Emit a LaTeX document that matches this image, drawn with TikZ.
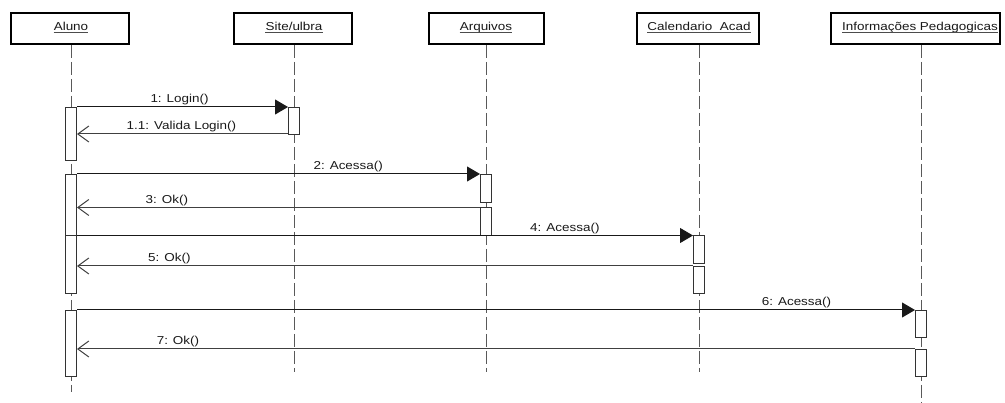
\documentclass[tikz,border=0pt]{standalone}
\usepackage{fontspec}
\newfontfamily\umlfont[FakeStretch=1.17]{Liberation Sans}
\usetikzlibrary{arrows.meta,calc}
\begin{document}
\begin{tikzpicture}[x=1pt,y=-1pt,
  umltext/.style={font=\umlfont\fontsize{11.5}{13}\selectfont, text=black!90, inner sep=0pt},
  hdr/.style={draw=black, line width=2pt, fill=white, inner sep=0pt, minimum height=31pt},
  hdrtext/.style={umltext, anchor=base},
  uline/.style={draw=black!70, line width=0.9pt},
  life/.style={draw=black!65, line width=1pt, dash pattern=on 13pt off 4pt},
  act/.style={draw=black!80, line width=1pt, fill=white, minimum width=11pt, inner sep=0pt, anchor=north},
  call/.style={draw=black!90, line width=1pt, -{Triangle[length=13pt,width=15pt]}},
  ret/.style={draw=black!75, line width=1pt, -{Straight Barb[length=11pt,width=16pt]}},
  msg/.style={umltext, anchor=base, yshift=4pt}
]
\useasboundingbox (0,0) rectangle (1005,403);

% object headers
\node[hdr, minimum width=118pt] (hAluno) at (70,28.5) {};
\node[hdr, minimum width=118pt] (hSite)  at (293,28.5) {};
\node[hdr, minimum width=115pt] (hArq)   at (486.5,28.5) {};
\node[hdr, minimum width=122pt] (hCal)   at (698,28.5) {};
\node[hdr, minimum width=169pt] (hInfo)  at (915.5,28.5) {};

\node[hdrtext] (tAluno) at (71,31)  {Aluno};
\node[hdrtext] (tSite)  at (294,31) {Site/ulbra};
\node[hdrtext] (tArq)   at (486,31) {Arquivos};
\node[hdrtext] (tCal)   at (699,31) {Calendario\ \ Acad};
\node[hdrtext] (tInfo)  at (920,31) {Informações Pedagogicas};

\foreach \t in {tAluno,tSite,tArq,tCal,tInfo}
  \draw[uline] ([yshift=-1.6pt]\t.base west) -- ([yshift=-1.6pt]\t.base east);

% lifelines
\draw[life] (hAluno.south -| tAluno) -- ++(0,347);
\draw[life] (hSite.south -| tSite) -- ++(0,327);
\draw[life] (hArq.south -| tArq) -- ++(0,327);
\draw[life] (hCal.south -| tCal) -- ++(0,327);
\draw[life] (921,45) coordinate (lInfo) -- ++(0,358);

% activation bars
\node[act, minimum height=53pt]   (a1) at (71,107) {};
\node[act, minimum height=61pt]   (a2) at (71,174) {};
\node[act, minimum height=57.5pt] (a3) at (71,235.5) {};
\node[act, minimum height=66pt]   (a4) at (71,310) {};
\node[act, minimum height=27pt]   (s1) at (294,107) {};
\node[act, minimum height=28pt]   (b1) at (486,174) {};
\node[act, minimum height=27.5pt] (b2) at (486,207.5) {};
\node[act, minimum height=27.5pt] (c1) at (699,235.5) {};
\node[act, minimum height=27pt]   (c2) at (699,266) {};
\node[act, minimum height=27pt]   (d1) at (921,310) {};
\node[act, minimum height=27pt]   (d2) at (921,349) {};

% messages
\draw[call] (a1.north east) -- (s1.north west) node[msg,pos=.486] {1: Login()};
\draw[ret] ([yshift=1pt]s1.south west) -- ([yshift=1pt]s1.south west -| a1.east) node[msg,pos=.505] {1.1: Valida Login()};
\draw[call] (a2.north east) -- (b1.north west) node[msg,pos=.673] {2: Acessa()};
\draw[ret] (b2.north west) -- (b2.north west -| a2.east) node[msg,pos=.777] {3: Ok()};
\draw[call] (a3.north east) -- (c1.north west) node[msg,pos=.792] {4: Acessa()};
\draw[ret] (c2.north west) -- (c2.north west -| a3.east) node[msg,pos=.85] {5: Ok()};
\draw[call] (a4.north east) -- (d1.north west) node[msg,pos=.8586] {6: Acessa()};
\draw[ret] (d2.north west) -- (d2.north west -| a4.east) node[msg,pos=.8795] {7: Ok()};
\end{tikzpicture}
\end{document}
